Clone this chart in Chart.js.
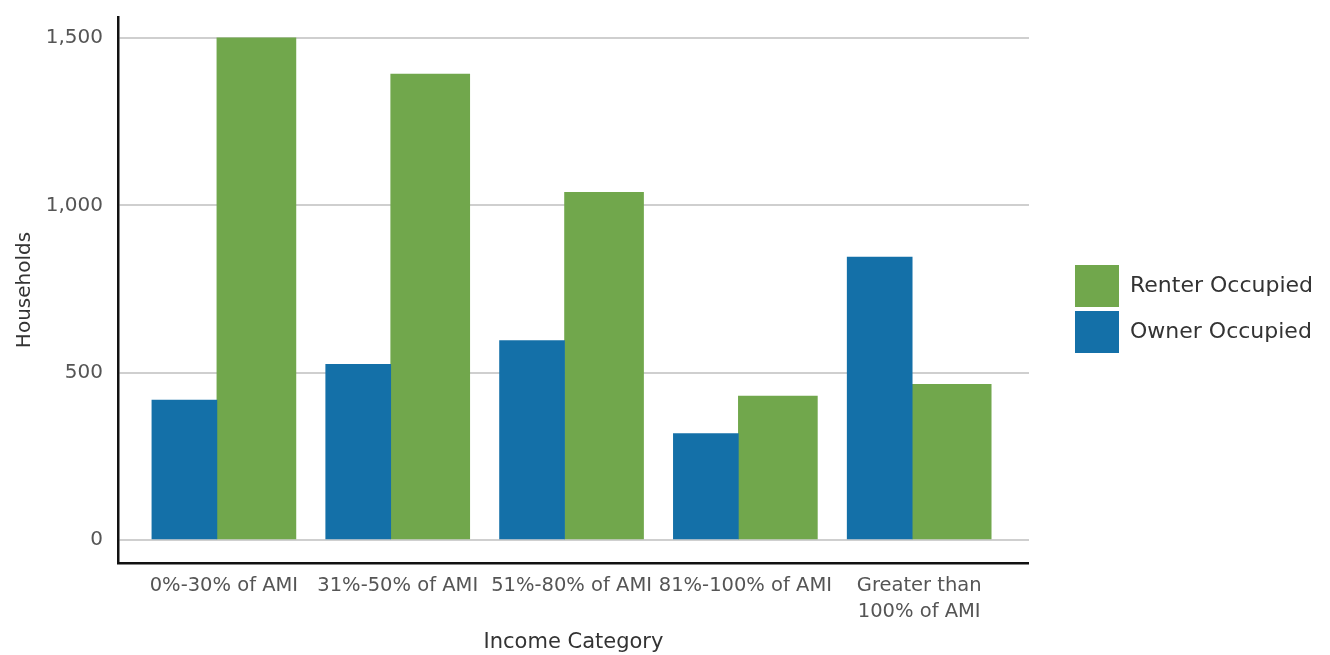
<!DOCTYPE html>
<html lang="en">
<head>
  <meta charset="UTF-8" />
  <title>Households by Income Category</title>
  <style>
    body {
      margin: 0;
      background: #ffffff;
    }
    #wrap {
      width: 1330px;
      height: 655px;
      position: relative;
    }
  </style>
</head>
<body>

<div id="wrap">
  <canvas id="incomeChart"></canvas>
</div>

<script src="https://cdn.jsdelivr.net/npm/chart.js"></script>
<script>
  // data
  const categories = ['0%-30% of AMI', '31%-50% of AMI', '51%-80% of AMI', '81%-100% of AMI', ['Greater than', '100% of AMI']];
  const ownerOccupied = [418, 525, 596, 318, 845];
  const renterOccupied = [1500, 1392, 1039, 430, 465];
  const yTicks = [0, 500, 1000, 1500];

  const BLUE = '#1470a8';
  const GREEN = '#71a74c';
  const FONT = "'DejaVu Sans', sans-serif";

  const toPoints = (vals) => vals.map((v, i) => ({ x: i, y: v }));

  const ctx = document.getElementById('incomeChart').getContext('2d');
  const chart = new Chart(ctx, {
    type: 'bar',
    data: {
      datasets: [{
        label: 'Owner Occupied',
        data: toPoints(ownerOccupied),
        backgroundColor: BLUE,
        barThickness: 65,
        borderWidth: 0
      }, {
        label: 'Renter Occupied',
        data: toPoints(renterOccupied),
        backgroundColor: GREEN,
        barThickness: 79,
        borderWidth: 0
      }]
    },
    options: {
      responsive: true,
      maintainAspectRatio: false,
      animation: false,
      layout: {
        autoPadding: false,
        padding: { top: 10, left: 11, right: 7, bottom: 0 }
      },
      plugins: {
        tooltip: { enabled: false },
        legend: {
          position: 'right',
          align: 'start',
          reverse: true,
          // blank title only pushes the two items down to the middle
          title: {
            display: true,
            text: ' ',
            font: { size: 1, lineHeight: 1 },
            padding: { top: 250, bottom: 0 }
          },
          labels: {
            boxWidth: 44,
            boxHeight: 42,
            padding: 4,
            color: '#333',
            font: { family: FONT, size: 22 }
          }
        }
      },
      scales: {
        x: {
          type: 'linear',
          offset: false,
          min: -0.569,
          max: 4.672,
          afterBuildTicks: (scale) => { scale.ticks = categories.map((c, i) => ({ value: i })); },
          afterFit: (scale) => { scale.height = 92; },
          grid: { display: false, offset: false, drawTicks: false },
          border: { display: true, color: '#111', width: 2.5 },
          ticks: {
            autoSkip: false,
            maxRotation: 0,
            padding: 10,
            labelOffset: 7,
            color: '#555',
            font: { family: FONT, size: 19.5, lineHeight: 1.33 },
            callback: (value) => categories[value]
          },
          title: {
            display: true,
            text: 'Income Category',
            color: '#333',
            font: { family: FONT, size: 21, lineHeight: 1.2 },
            padding: { top: 3, bottom: 0 }
          }
        },
        y: {
          min: -68.6,
          max: 1562.6,
          afterBuildTicks: (scale) => { scale.ticks = yTicks.map(v => ({ value: v })); },
          afterFit: (scale) => { scale.width = 107; },
          grid: { color: '#cfcfcf', lineWidth: 2, drawTicks: false },
          border: { display: true, color: '#111', width: 2.5 },
          ticks: {
            padding: 15,
            color: '#555',
            font: { family: FONT, size: 20, lineHeight: 0.2 },
            callback: (value) => value.toLocaleString('en-US')
          },
          title: {
            display: true,
            text: 'Households',
            color: '#333',
            font: { family: FONT, size: 20, lineHeight: 1.0 },
            padding: { top: 4, bottom: 0 }
          }
        },
        // hidden spacer between the plot and the legend
        gap: {
          position: 'right',
          display: false,
          afterFit: (scale) => { scale.width = 42; }
        }
      }
    }
  });
</script>

</body>
</html>
